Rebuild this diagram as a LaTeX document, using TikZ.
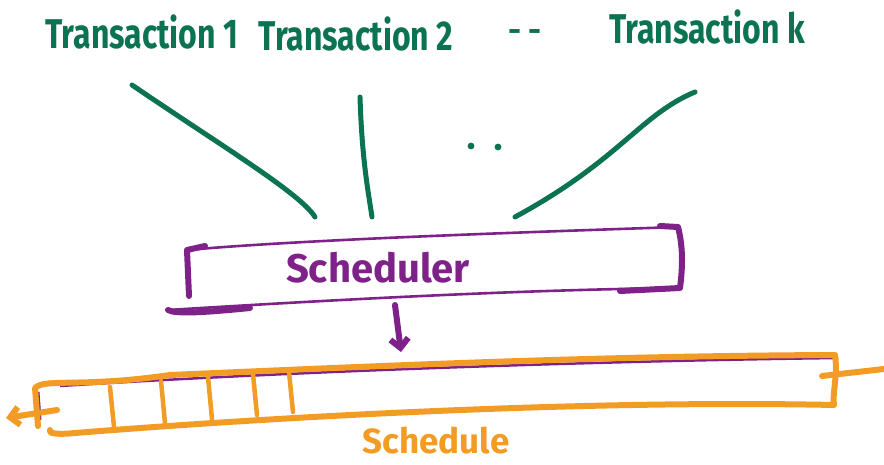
\documentclass[tikz,border=0pt]{standalone}
\usepackage{fontspec}
\setmainfont{Fira Sans}
\usetikzlibrary{arrows.meta}
\definecolor{ink}{HTML}{0B7352}
\definecolor{plum}{HTML}{7E2189}
\definecolor{amber}{HTML}{F39C25}
\tikzset{
  pen/.style={line width=6pt, line cap=round, line join=round},
  finepen/.style={line width=2.6pt, line cap=round, line join=round},
  greenpen/.style={pen, draw=ink},
  plumpen/.style={pen, draw=plum},
  plumfine/.style={finepen, draw=plum},
  amberpen/.style={pen, draw=amber},
  label/.style={inner sep=0pt, font=\fontsize{32}{36}\selectfont\bfseries},
  barb/.style={-{Straight Barb[length=9pt,width=18pt]}},
}
\newcommand{\tall}[1]{\scalebox{1}[1.3]{#1}}
\begin{document}
\begin{tikzpicture}[x=1pt,y=-1pt]
\useasboundingbox (0,0) rectangle (884,465);

% transactions
\node[label, text=ink] (t1) at (142,32) {\tall{Transaction 1}};
\node[label, text=ink] (t2) at (356,34) {\tall{Transaction 2}};
\node[label, text=ink] (tdots) at (525,36) {- -};
\node[label, text=ink] (tk) at (707,27) {\tall{Transaction k}};

% line start and end points
\coordinate (a1) at (132,85);
\coordinate (b1) at (315,217);
\coordinate (a2) at (360,97);
\coordinate (b2) at (372,217);
\coordinate (ak) at (695,92);
\coordinate (bk) at (515,217);

\draw[greenpen, line width=5pt] (a1) .. controls (220,145) and (300,193) .. (b1);
\draw[greenpen, line width=5pt] (a2) .. controls (362,160) and (368,190) .. (b2);
\draw[greenpen, line width=5pt] (ak) .. controls (640,115) and (620,160) .. (bk);
\node[circle, fill=ink, inner sep=2.4pt] (d1) at (471,146) {};
\node[circle, fill=ink, inner sep=2.4pt] (d2) at (498,147) {};

% scheduler box: thin top and bottom, heavy sides
\coordinate (s1) at (189,296);
\coordinate (s2) at (187,250);
\coordinate (s3) at (678,227);
\coordinate (s4) at (680,288);
\coordinate (s5) at (168,310);
\draw[plumfine] (s2) .. controls (300,240) and (500,233) .. (s3);
\draw[plumfine] (s4) .. controls (500,290) and (300,302) .. (s5);
\draw[plumpen] (s1) -- (s2) -- (205,246);
\draw[plumpen] (660,226) -- (s3) .. controls (684,250) and (682,272) .. (s4) -- (620,291);
\draw[plumpen] (s5) .. controls (175,314) and (200,313) .. (250,308);
\node[label, text=plum, font=\fontsize{40}{42}\selectfont\bfseries] (sch) at (378,268) {Scheduler};

% arrow into the schedule
\coordinate (p1) at (395,305);
\coordinate (p2) at (401,352);
\draw[plumpen, barb] (p1) -- (p2);

% schedule strip
\coordinate (q1) at (38,426);
\coordinate (q2) at (35,388);
\coordinate (q3) at (835,355);
\coordinate (q4) at (834,405);
\coordinate (q5) at (50,430);
\draw[plum, line width=2.5pt] (60,386) .. controls (300,371) and (600,361) .. (838,358);
\draw[plum, line width=3pt] (38,392) -- (40,420);
\draw[amberpen] (q1) -- (q2) .. controls (45,378) and (80,388) .. (170,375)
  .. controls (400,365) and (600,356) .. (q3)
  .. controls (838,375) and (832,395) .. (q4)
  .. controls (600,400) and (300,415) .. (75,433) .. controls (55,435) and (48,433) .. (q5);
\coordinate (lo) at (6,418);
\coordinate (li) at (57,410);
\draw[amberpen, barb] (li) -- (lo);
\coordinate (ri) at (822,376);
\coordinate (ro) at (884,369);
\draw[amberpen] (ri) -- (ro);

% slot dividers
\foreach \x/\t/\b [count=\i] in {110/387/427, 161/381/423, 208/377/419, 253/374/415, 289/372/412}{
  \coordinate (u\i) at (\x,\t);
  \coordinate (v\i) at (\x+4,\b);
  \draw[amberpen, line width=4.5pt] (u\i) -- (v\i);
}
\node[label, text=amber, font=\fontsize{35}{38}\selectfont\bfseries] (sched) at (436,441) {Schedule};
\end{tikzpicture}
\end{document}
